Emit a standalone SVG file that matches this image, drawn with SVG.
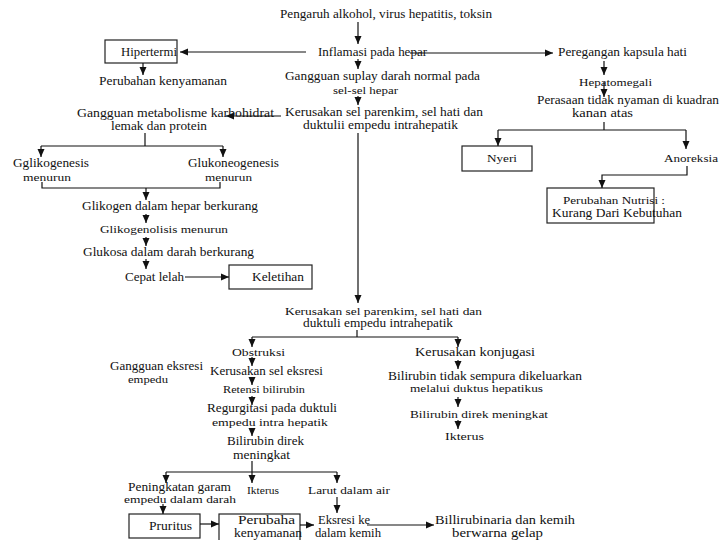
<svg xmlns="http://www.w3.org/2000/svg" width="720" height="540" viewBox="0 0 720 540">
<style>
text{font-family:"Liberation Serif","Times New Roman",serif;font-size:12px;fill:#111;}
.s{font-size:11px;}
.box{fill:#fff;stroke:#222;stroke-width:1.2;}
.c line,.c polyline{stroke:#111;stroke-width:1.2;fill:none;}
.c .a{marker-end:url(#ah);}
</style>
<defs>
<marker id="ah" markerUnits="userSpaceOnUse" markerWidth="8" markerHeight="8" viewBox="0 0 8 8" refX="8" refY="4" orient="auto">
<path d="M0,0.5 L8,4 L0,7.5 Z" fill="#111"/>
</marker>
</defs>
<rect width="720" height="540" fill="#fff"/>

<g id="n-title"><text x="280" y="18" textLength="212" lengthAdjust="spacingAndGlyphs">Pengaruh alkohol, virus hepatitis, toksin</text></g>
<g id="n-inflamasi"><text x="318" y="56" textLength="109" lengthAdjust="spacingAndGlyphs">Inflamasi pada hepar</text></g>
<g id="n-hipertermi"><rect class="box" x="105" y="40" width="72" height="23"/><text x="121" y="56" textLength="56" lengthAdjust="spacingAndGlyphs">Hipertermi</text></g>
<g id="n-perubahan1"><text x="99" y="85" textLength="128" lengthAdjust="spacingAndGlyphs">Perubahan kenyamanan</text></g>
<g id="n-gangguan-suplay"><text x="285" y="80" textLength="195" lengthAdjust="spacingAndGlyphs">Gangguan suplay darah normal pada</text><text class="s" x="333" y="94" textLength="65" lengthAdjust="spacingAndGlyphs">sel-sel hepar</text></g>
<g id="n-kerusakan1"><text x="285" y="116" textLength="198" lengthAdjust="spacingAndGlyphs">Kerusakan sel parenkim, sel hati dan</text><text x="303" y="129" textLength="155" lengthAdjust="spacingAndGlyphs">duktulii empedu intrahepatik</text></g>
<g id="n-metabolisme"><text x="77" y="117" textLength="197" lengthAdjust="spacingAndGlyphs">Gangguan metabolisme karbohidrat</text><text x="111" y="130" textLength="96" lengthAdjust="spacingAndGlyphs">lemak dan protein</text></g>
<g id="n-peregangan"><text x="558" y="56" textLength="129" lengthAdjust="spacingAndGlyphs">Peregangan kapsula hati</text></g>
<g id="n-hepatomegali"><text class="s" x="579" y="86" textLength="73" lengthAdjust="spacingAndGlyphs">Hepatomegali</text></g>
<g id="n-perasaan"><text x="537" y="104" textLength="182" lengthAdjust="spacingAndGlyphs">Perasaan tidak nyaman di kuadran</text><text x="572" y="117" textLength="61" lengthAdjust="spacingAndGlyphs">kanan atas</text></g>
<g id="n-nyeri"><rect class="box" x="462" y="146" width="70" height="25"/><text class="s" x="487" y="162" textLength="30" lengthAdjust="spacingAndGlyphs">Nyeri</text></g>
<g id="n-anoreksia"><text class="s" x="664" y="162" textLength="54" lengthAdjust="spacingAndGlyphs">Anoreksia</text></g>
<g id="n-nutrisi"><rect class="box" x="547" y="188" width="107" height="35"/><text class="s" x="563" y="204" textLength="102" lengthAdjust="spacingAndGlyphs">Perubahan Nutrisi :</text><text x="552" y="217" textLength="130" lengthAdjust="spacingAndGlyphs">Kurang Dari Kebutuhan</text></g>
<g id="n-glikogenesis"><text x="13" y="167" textLength="76" lengthAdjust="spacingAndGlyphs">Gglikogenesis</text><text class="s" x="23" y="181" textLength="48" lengthAdjust="spacingAndGlyphs">menurun</text></g>
<g id="n-glukoneogenesis"><text x="188" y="167" textLength="91" lengthAdjust="spacingAndGlyphs">Glukoneogenesis</text><text class="s" x="205" y="181" textLength="47" lengthAdjust="spacingAndGlyphs">menurun</text></g>
<g id="n-glikogen"><text x="82" y="210" textLength="176" lengthAdjust="spacingAndGlyphs">Glikogen dalam hepar berkurang</text></g>
<g id="n-glikogenolisis"><text class="s" x="100" y="233" textLength="128" lengthAdjust="spacingAndGlyphs">Glikogenolisis menurun</text></g>
<g id="n-glukosa"><text x="83" y="256" textLength="171" lengthAdjust="spacingAndGlyphs">Glukosa dalam darah berkurang</text></g>
<g id="n-cepat-lelah"><text x="125" y="281" textLength="59" lengthAdjust="spacingAndGlyphs">Cepat lelah</text></g>
<g id="n-keletihan"><rect class="box" x="229" y="265" width="83" height="24"/><text x="252" y="281" textLength="52" lengthAdjust="spacingAndGlyphs">Keletihan</text></g>

<g id="n-kerusakan2"><text class="s" x="285" y="315" textLength="197" lengthAdjust="spacingAndGlyphs">Kerusakan sel parenkim, sel hati dan</text><text x="303" y="327" textLength="150" lengthAdjust="spacingAndGlyphs">duktuli empedu intrahepatik</text></g>
<g id="n-obstruksi"><text class="s" x="232" y="356" textLength="53" lengthAdjust="spacingAndGlyphs">Obstruksi</text></g>
<g id="n-kerusakan-eksresi"><text x="210" y="375" textLength="113" lengthAdjust="spacingAndGlyphs">Kerusakan sel eksresi</text></g>
<g id="n-retensi"><text class="s" x="223" y="393" textLength="82" lengthAdjust="spacingAndGlyphs">Retensi bilirubin</text></g>
<g id="n-regurgitasi"><text x="207" y="412" textLength="130" lengthAdjust="spacingAndGlyphs">Regurgitasi pada duktuli</text><text class="s" x="212" y="426" textLength="116" lengthAdjust="spacingAndGlyphs">empedu intra hepatik</text></g>
<g id="n-bilirubin-direk1"><text x="227" y="445" textLength="77" lengthAdjust="spacingAndGlyphs">Bilirubin direk</text><text x="233" y="459" textLength="57" lengthAdjust="spacingAndGlyphs">meningkat</text></g>
<g id="n-gangguan-eksresi"><text x="110" y="370" textLength="93" lengthAdjust="spacingAndGlyphs">Gangguan eksresi</text><text class="s" x="128" y="383" textLength="40" lengthAdjust="spacingAndGlyphs">empedu</text></g>
<g id="n-konjugasi"><text x="415" y="356" textLength="120" lengthAdjust="spacingAndGlyphs">Kerusakan konjugasi</text></g>
<g id="n-bilirubin-tidak"><text x="388" y="380" textLength="194" lengthAdjust="spacingAndGlyphs">Bilirubin tidak sempura dikeluarkan</text><text class="s" x="410" y="392" textLength="133" lengthAdjust="spacingAndGlyphs">melalui duktus hepatikus</text></g>
<g id="n-bilirubin-direk2"><text class="s" x="410" y="418" textLength="138" lengthAdjust="spacingAndGlyphs">Bilirubin direk meningkat</text></g>
<g id="n-ikterus2"><text class="s" x="445" y="440" textLength="39" lengthAdjust="spacingAndGlyphs">Ikterus</text></g>
<g id="n-peningkatan"><text x="128" y="491" textLength="103" lengthAdjust="spacingAndGlyphs">Peningkatan garam</text><text class="s" x="124" y="503" textLength="112" lengthAdjust="spacingAndGlyphs">empedu dalam darah</text></g>
<g id="n-ikterus1"><text class="s" x="247" y="494" textLength="32" lengthAdjust="spacingAndGlyphs">Ikterus</text></g>
<g id="n-larut"><text class="s" x="308" y="494" textLength="82" lengthAdjust="spacingAndGlyphs">Larut dalam air</text></g>
<g id="n-pruritus"><rect class="box" x="129" y="514" width="71" height="24"/><text x="149" y="530" textLength="43" lengthAdjust="spacingAndGlyphs">Pruritus</text></g>
<g id="n-perubaha"><rect class="box" x="219" y="514" width="81" height="27"/><text x="238" y="524" textLength="57" lengthAdjust="spacingAndGlyphs">Perubaha</text><text x="234" y="537" textLength="68" lengthAdjust="spacingAndGlyphs">kenyamanan</text></g>
<g id="n-eksresi"><text x="318" y="524" textLength="52" lengthAdjust="spacingAndGlyphs">Eksresi ke</text><text x="315" y="537" textLength="66" lengthAdjust="spacingAndGlyphs">dalam kemih</text></g>
<g id="n-billirubinaria"><text x="435" y="524" textLength="140" lengthAdjust="spacingAndGlyphs">Billirubinaria dan kemih</text><text x="452" y="537" textLength="91" lengthAdjust="spacingAndGlyphs">berwarna gelap</text></g>

<g id="connectors" class="c">
<line class="a" x1="358" y1="22" x2="358" y2="44"/>
<line class="a" x1="306" y1="52" x2="180" y2="52"/>
<line class="a" x1="410" y1="53" x2="553" y2="53"/>
<line class="a" x1="358" y1="59" x2="358" y2="69"/>
<line class="a" x1="143" y1="63" x2="143" y2="75"/>
<line class="a" x1="358" y1="96" x2="358" y2="105"/>
<line class="a" x1="358" y1="133" x2="358" y2="303"/>
<line class="a" x1="281" y1="116" x2="226" y2="116"/>
<line x1="145" y1="133" x2="145" y2="146"/>
<line x1="41" y1="146" x2="223" y2="146"/>
<line class="a" x1="41" y1="146" x2="41" y2="157"/>
<line class="a" x1="223" y1="146" x2="223" y2="157"/>
<polyline points="42,182 42,188 220,188 220,182"/>
<line class="a" x1="146" y1="188" x2="146" y2="200"/>
<line class="a" x1="146" y1="214" x2="146" y2="223"/>
<line class="a" x1="146" y1="237" x2="146" y2="246"/>
<line class="a" x1="146" y1="259" x2="146" y2="269"/>
<line class="a" x1="185" y1="277" x2="229" y2="277"/>
<line class="a" x1="604" y1="61" x2="604" y2="75"/>
<line class="a" x1="604" y1="82" x2="604" y2="97"/>
<line x1="604" y1="122" x2="604" y2="130"/>
<line x1="498" y1="130" x2="686" y2="130"/>
<line class="a" x1="498" y1="130" x2="498" y2="146"/>
<line class="a" x1="686" y1="130" x2="686" y2="149"/>
<polyline class="a" points="687,166 687,175 602,175 602,188"/>
<line x1="357" y1="330" x2="357" y2="337"/>
<line x1="252" y1="337" x2="458" y2="337"/>
<line class="a" x1="252" y1="337" x2="252" y2="347"/>
<line class="a" x1="458" y1="337" x2="458" y2="347"/>
<line class="a" x1="252" y1="357" x2="252" y2="366"/>
<line class="a" x1="252" y1="377" x2="252" y2="385"/>
<line class="a" x1="252" y1="396" x2="252" y2="405"/>
<line class="a" x1="252" y1="428" x2="252" y2="436"/>
<line class="a" x1="458" y1="360" x2="458" y2="369"/>
<line class="a" x1="458" y1="397" x2="458" y2="407"/>
<line class="a" x1="458" y1="420" x2="458" y2="429"/>
<line class="a" x1="252" y1="461" x2="252" y2="483"/>
<line x1="166" y1="472" x2="337" y2="472"/>
<line class="a" x1="166" y1="472" x2="166" y2="483"/>
<line class="a" x1="337" y1="472" x2="337" y2="483"/>
<line class="a" x1="337" y1="497" x2="337" y2="513"/>
<line class="a" x1="163" y1="504" x2="163" y2="514"/>
<line class="a" x1="200" y1="524" x2="219" y2="524"/>
<line class="a" x1="300" y1="525" x2="314" y2="525"/>
<line class="a" x1="367" y1="525" x2="434" y2="525"/>
</g>
</svg>
